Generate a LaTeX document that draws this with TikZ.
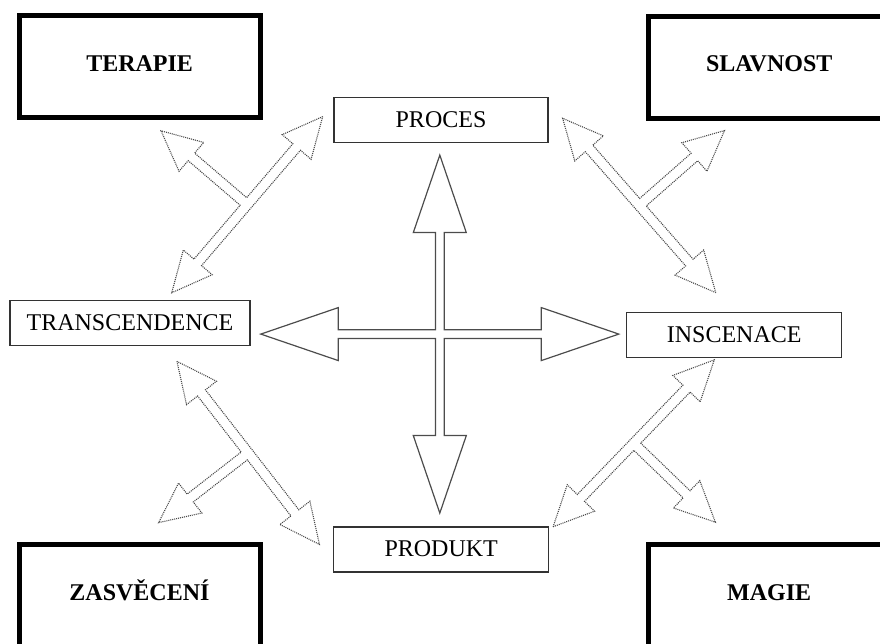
\documentclass[tikz,border=0pt]{standalone}
\usepackage{fontspec}
\setmainfont{Liberation Serif}
\begin{document}
\begin{tikzpicture}[x=1pt,y=1pt,
  thinbox/.style={draw=black!80, line width=1.3pt, rectangle, inner sep=0pt, outer sep=0pt,
    minimum width=215pt, minimum height=45pt, text height=16pt, text depth=1pt,
    font=\fontsize{24}{28}\selectfont},
  thickbox/.style={draw=black, line width=5pt, rectangle, inner sep=0pt, outer sep=0pt,
    minimum width=241pt, minimum height=102pt, text height=16pt, text depth=7pt,
    font=\fontsize{24}{28}\selectfont\bfseries},
  crossline/.style={draw=black!70, line width=1.2pt, line join=miter},
  diagline/.style={draw=black!72, line width=1.1pt, dash pattern=on 1pt off 1pt},
  tarrow/.pic={
    \draw[diagline] (116,0) -- (76,19) -- (76,5) -- (5,5) -- (5,73.5) -- (19,73.5)
      -- (0,113.5) -- (-19,73.5) -- (-5,73.5) -- (-5,5) -- (-76,5) -- (-76,19)
      -- (-116,0) -- (-76,-19) -- (-76,-5) -- (76,-5) -- (76,-19) -- cycle;
  }]
\useasboundingbox (0,0) rectangle (880,644);
\clip (0,0) rectangle (880,644);

% corner boxes
\node[thickbox] (terapie)  at (139.6,577.3) {TERAPIE};
\node[thickbox] (slavnost) at (769.2,576.9) {SLAVNOST};
\node[thickbox] (zasveceni) at (139.5,48) {ZASVĚCENÍ};
\node[thickbox] (magie)    at (769.2,48) {MAGIE};

% inner boxes
\node[thinbox, minimum width=214pt] (proces) at (441,524) {PROCES};
\node[thinbox, minimum width=240pt] (transc) at (130,320.8) {TRANSCENDENCE};
\node[thinbox] (inscen) at (734.2,308.8) {INSCENACE};
\node[thinbox] (produkt) at (441.2,94.5) {PRODUKT};

% central four-way arrow
\draw[crossline, shift={(439.8,309.9)}]
  (0,179) -- (26.5,101.5) -- (4.4,101.5) -- (4.4,4.4) -- (101.5,4.4) -- (101.5,26.5)
  -- (179,0) -- (101.5,-26.5) -- (101.5,-4.4) -- (4.4,-4.4) -- (4.4,-101.5) -- (26.5,-101.5)
  -- (0,-179) -- (-26.5,-101.5) -- (-4.4,-101.5) -- (-4.4,-4.4) -- (-101.5,-4.4) -- (-101.5,-26.5)
  -- (-179,0) -- (-101.5,26.5) -- (-101.5,4.4) -- (-4.4,4.4) -- (-4.4,101.5) -- (-26.5,101.5)
  -- cycle;

% diagonal three-headed arrows
\pic[rotate=49.4]  at (247.2,439.3) {tarrow};
\pic[rotate=-48.7] at (639.2,438.5) {tarrow};
\pic[rotate=127.9] at (248.2,191.1) {tarrow};
\pic[rotate=226.0] at (633.7,200.7) {tarrow};
\end{tikzpicture}
\end{document}
